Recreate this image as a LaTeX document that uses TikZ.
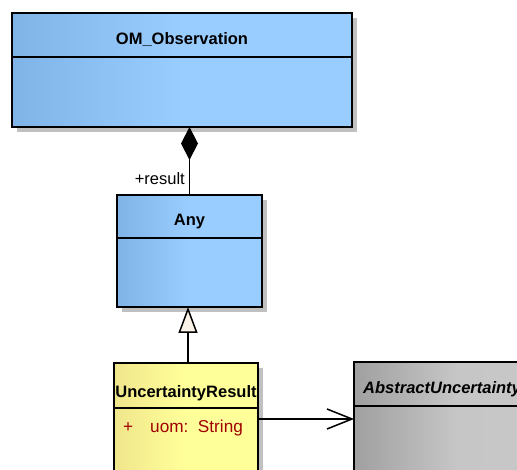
\documentclass[tikz,border=0pt]{standalone}
\usepackage{fontspec}
\setmainfont{Liberation Sans}
\usetikzlibrary{arrows.meta,shadows}
\definecolor{blueL}{RGB}{128,180,230}
\definecolor{blueR}{RGB}{153,204,255}
\definecolor{yelL}{RGB}{240,230,140}
\definecolor{yelR}{RGB}{255,255,153}
\definecolor{grayL}{RGB}{160,160,160}
\definecolor{grayR}{RGB}{200,200,200}
\definecolor{shadowgray}{RGB}{192,192,192}
\definecolor{cream}{RGB}{250,242,230}
\definecolor{attrred}{RGB}{160,0,0}
\tikzset{
  umlclass/.style={draw=black, line width=1.5pt, rectangle, inner sep=0pt, outer sep=0pt,
    general shadow={fill=shadowgray, shadow xshift=5pt, shadow yshift=-5pt}},
  bluecls/.style={umlclass, left color=blueL, right color=blueR, middle color=blueR},
  yelcls/.style={umlclass, left color=yelL, right color=yelR, middle color=yelR},
  graycls/.style={umlclass, left color=grayL, right color=grayR, middle color=grayR!95!grayL},
  divider/.style={line width=1.5pt},
  title/.style={font=\fontsize{16.5}{19}\selectfont\bfseries, inner sep=0pt, anchor=base},
  label/.style={font=\fontsize{16.5}{19}\selectfont, inner sep=0pt},
  attr/.style={font=\fontsize{17.2}{19}\selectfont, inner sep=0pt, text=attrred, anchor=base west},
  conn/.style={line width=1.5pt},
}
\begin{document}
\begin{tikzpicture}[x=1pt,y=-1pt]
\useasboundingbox (0,0) rectangle (517,470);
\clip (0,0) rectangle (517,470);
\fill[white] (0,0) rectangle (517,470);
% classes
\node[bluecls, minimum width=340pt, minimum height=114pt] (om) at (182,70) {};
\node[bluecls, minimum width=145pt, minimum height=112pt] (any) at (189.5,251) {};
\node[yelcls, minimum width=144pt, minimum height=127pt] (ur) at (186,426.5) {};
\node[graycls, minimum width=206pt, minimum height=128pt] (au) at (457,426) {};
% dividers
\draw[divider] (om.west |- 0,57) -- (om.east |- 0,57);
\draw[divider] (any.west |- 0,238) -- (any.east |- 0,238);
\draw[divider] (ur.west |- 0,408) -- (ur.east |- 0,408);
\draw[divider] (au.west |- 0,406) -- (au.east |- 0,406);
% titles
\node[title] (omt) at (182,45) {OM\_Observation};
\node[title] (anyt) at (189.5,226) {Any};
\node[title] (urt) at (186,397) {UncertaintyResult};
\node[title, anchor=base west, font=\fontsize{16.5}{19}\selectfont\bfseries\itshape] (aut) at (363,393) {AbstractUncertainty};
% attribute
\node[attr] (plus) at (123,432) {+};
\node[attr] (uom) at (150,432) {uom:\ \ String};
% connectors
\draw[conn, -{Diamond[length=33pt,width=17pt]}] (any.north) -- (any.north |- om.south);
\node[label, anchor=base east] (role) at (185,185) {+result};
\draw[conn, -{Triangle[length=26pt,width=19pt,fill=cream]}] ([xshift=2pt]ur.north) -- ([xshift=2pt]ur.north |- any.south);
\draw[conn, -{Straight Barb[length=25pt,width=20pt]}] ([yshift=7.5pt]ur.east) -- ([yshift=7.5pt]ur.east -| au.west);
\end{tikzpicture}
\end{document}
